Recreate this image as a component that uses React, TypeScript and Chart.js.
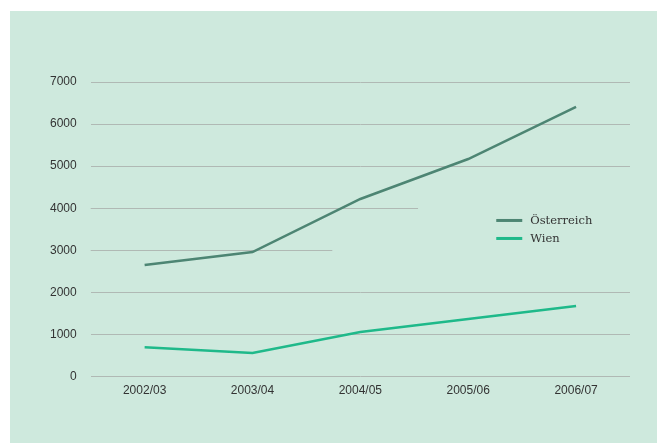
import React, { useEffect, useRef } from "react";
import { Chart, registerables } from "chart.js";

Chart.register(...registerables);

const categories = ["2002/03", "2003/04", "2004/05", "2005/06", "2006/07"];
const oesterreich = [2650, 2960, 4220, 5170, 6410];
const wien = [700, 560, 1060, 1370, 1680];
const seriesLabels = ["Österreich", "Wien"];
const yTicks = [0, 1000, 2000, 3000, 4000, 5000, 6000, 7000];

const BG = "#cee9dd";
const GRID = "#b0b9b4";
const C_AT = "#4d8573";
const C_W = "#1fb98a";

// gridlines in the reference that stop part-way: value -> fraction of chart width
const partialGrid: Record<number, number> = { 4000: 0.607, 3000: 0.448 };

const bgPlugin = {
  id: "bg",
  beforeDraw(chart: any) {
    const { ctx, width, height } = chart;
    ctx.save();
    ctx.fillStyle = BG;
    ctx.fillRect(0, 0, width, height);
    ctx.restore();
  },
  beforeDatasetsDraw(chart: any) {
    const { ctx, chartArea, scales } = chart;
    ctx.save();
    ctx.strokeStyle = GRID;
    ctx.lineWidth = 1;
    Object.keys(partialGrid).forEach((k) => {
      const v = Number(k);
      const y = Math.round(scales.y.getPixelForValue(v)) + 0.5;
      const xe = chartArea.left + partialGrid[v] * (chartArea.right - chartArea.left);
      ctx.beginPath();
      ctx.moveTo(chartArea.left, y);
      ctx.lineTo(xe, y);
      ctx.stroke();
    });
    ctx.restore();
  },
};

const legendPlugin = {
  id: "customLegend",
  afterDraw(chart: any) {
    const { ctx, chartArea } = chart;
    const x0 = chartArea.left + 0.752 * (chartArea.right - chartArea.left);
    const y0 = chart.scales.y.getPixelForValue(3710);
    ctx.save();
    ctx.font = "11.5px 'DejaVu Serif'";
    ctx.textBaseline = "middle";
    chart.data.datasets.forEach((ds: any, i: number) => {
      const y = y0 + i * 18;
      ctx.strokeStyle = ds.borderColor;
      ctx.lineWidth = 3;
      ctx.beginPath();
      ctx.moveTo(x0, y);
      ctx.lineTo(x0 + 26, y);
      ctx.stroke();
      ctx.fillStyle = "#333";
      ctx.fillText(ds.label, x0 + 34, y + 1);
    });
    ctx.restore();
  },
};

export default function App() {
  const ref = useRef<HTMLCanvasElement>(null);
  useEffect(() => {
    if (!ref.current) return;
    const chart = new Chart(ref.current, {
      type: "line",
      data: {
        labels: categories,
        datasets: [
          {
            label: seriesLabels[0],
            data: oesterreich,
            borderColor: C_AT,
            backgroundColor: C_AT,
            borderWidth: 2.5,
            pointRadius: 0,
            tension: 0,
          },
          {
            label: seriesLabels[1],
            data: wien,
            borderColor: C_W,
            backgroundColor: C_W,
            borderWidth: 2.5,
            pointRadius: 0,
            tension: 0,
          },
        ],
      },
      options: {
        animation: false,
        responsive: false,
        maintainAspectRatio: false,
        layout: { padding: { top: 71, left: 26, right: 27, bottom: 38 } },
        plugins: { legend: { display: false }, tooltip: { enabled: false } },
        scales: {
          x: {
            offset: true,
            grid: { display: false, drawTicks: false },
            border: { display: false },
            ticks: {
              padding: 7,
              color: "#333",
              font: { family: "'Liberation Sans', Arial, sans-serif", size: 12 },
            },
          },
          y: {
            min: 0,
            max: 7000,
            afterBuildTicks: (axis: any) => {
              axis.ticks = yTicks.map((v) => ({ value: v }));
            },
            grid: {
              drawTicks: false,
              color: (c: any) =>
                c.tick && partialGrid[c.tick.value] !== undefined ? "rgba(0,0,0,0)" : GRID,
            },
            border: { display: false },
            ticks: {
              padding: 14,
              color: "#333",
              font: { family: "'Liberation Sans', Arial, sans-serif", size: 12 },
              callback: (v: any) => String(v),
            },
          },
        },
      },
      plugins: [bgPlugin, legendPlugin],
    });
    return () => chart.destroy();
  }, []);
  return (
    <div style={{ position: "absolute", left: 10, top: 11, width: 647, height: 432 }}>
      <canvas ref={ref} width={647} height={432} style={{ display: "block" }} />
    </div>
  );
}
